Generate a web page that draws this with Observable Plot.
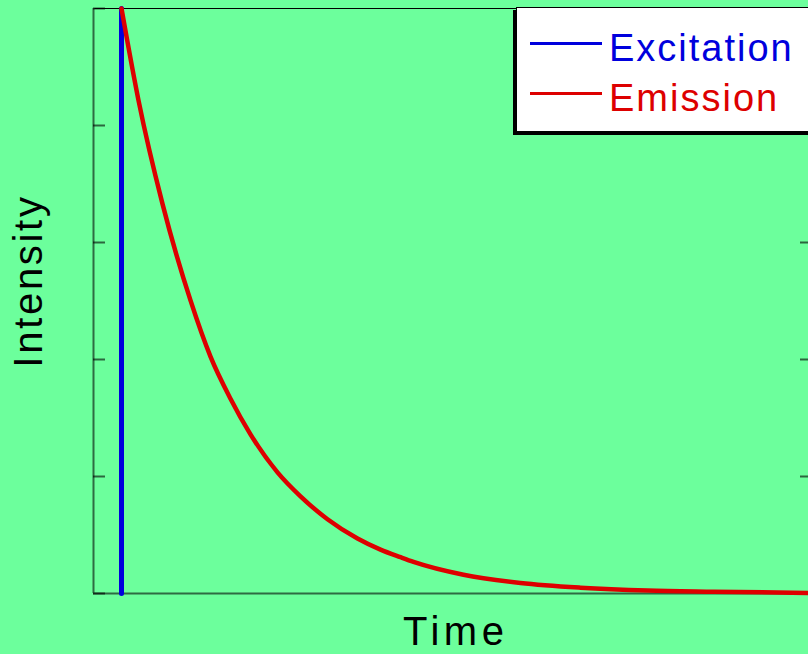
<!DOCTYPE html>
<html>
<head>
<meta charset="utf-8">
<script src="https://cdn.jsdelivr.net/npm/d3@7"></script>
<script src="https://cdn.jsdelivr.net/npm/@observablehq/plot@0.6"></script>
<style>
  html, body { margin: 0; padding: 0; background: #6cff9c; }
  #wrap { position: relative; width: 808px; height: 654px; overflow: hidden; background: #6cff9c; font-family: Arial, "Liberation Sans", sans-serif; }
  #chart { position: absolute; left: 0; top: 0; }
  .lbl { position: absolute; color: #000; font-size: 40px; white-space: nowrap; line-height: 1; }
  #xlabel { left: 403px; top: 611px; letter-spacing: 4.5px; }
  #ylabel { left: 28px; top: 281px; letter-spacing: 2.7px; transform: translate(-50%, -50%) rotate(-90deg); }
  #legend { position: absolute; left: 516px; top: 7px; width: 300px; height: 123px; background: #fff; border: 1px solid #000; box-shadow: -3px 3px 0 #000; }
  .row { position: absolute; left: 13px; height: 40px; }
  .row .sw { position: absolute; left: 0; top: 18px; width: 72px; height: 3px; }
  .row .tx { position: absolute; left: 79px; top: 4px; font-size: 38px; letter-spacing: 2px; line-height: 40px; }
</style>
</head>
<body>
<div id="wrap">
  <div id="chart"></div>
  <div id="xlabel" class="lbl"></div>
  <div id="ylabel" class="lbl"></div>
  <div id="legend"></div>
</div>
<script>
const excitationTime = [0, 0];
const excitationValue = [0, 1];
const emissionTime = [0, 0.17, 0.41, 0.69, 0.89, 1.09, 1.29, 1.56, 1.79, 2.06, 2.36, 2.59, 2.79, 2.92, 3.42, 3.99, 4.59, 5.26, 5.92, 6.86];
const emissionValue = [1.0, 0.843, 0.666, 0.501, 0.405, 0.333, 0.272, 0.207, 0.166, 0.127, 0.094, 0.075, 0.062, 0.054, 0.032, 0.018, 0.010, 0.005, 0.003, 0.001];
const yTicks = [0, 0.2, 0.4, 0.6, 0.8, 1.0];
const xTicks = [0];
const seriesNames = ["Excitation", "Emission"];
const seriesColors = ["#0000dd", "#dd0000"];
const xLabel = "Time";
const yLabel = "Intensity";

const excitation = excitationTime.map((t, i) => ({t, v: excitationValue[i]}));
const emission = emissionTime.map((t, i) => ({t, v: emissionValue[i]}));

const chart = Plot.plot({
  width: 808,
  height: 654,
  marginLeft: 93,
  marginRight: -3,
  marginTop: 8,
  marginBottom: 61,
  style: {background: "transparent", overflow: "visible"},
  x: {domain: [-0.28, 6.90], axis: null},
  y: {domain: [0, 1], axis: null},
  marks: [
    Plot.frame({stroke: "#000", strokeWidth: 1}),
    Plot.ruleY([0], {stroke: "#2e6b42", strokeWidth: 2}),
    Plot.ruleX([-0.28], {stroke: "#2e6b42", strokeWidth: 2}),
    Plot.axisY(yTicks, {anchor: "left", tickSize: -12, fill: "none", stroke: "#000", strokeOpacity: 0.6, strokeWidth: 2, label: null}),
    Plot.axisY(yTicks, {anchor: "right", tickSize: -12, fill: "none", stroke: "#000", strokeOpacity: 0.6, strokeWidth: 2, label: null}),
    Plot.axisX(xTicks, {anchor: "bottom", tickSize: -12, fill: "none", stroke: "#000", strokeWidth: 1, label: null}),
    Plot.axisX(xTicks, {anchor: "top", tickSize: -12, fill: "none", stroke: "#000", strokeWidth: 1, label: null}),
    Plot.line(excitation, {x: "t", y: "v", stroke: seriesColors[0], strokeWidth: 5}),
    Plot.line(emission, {x: "t", y: "v", stroke: seriesColors[1], strokeWidth: 4.5, curve: "monotone-x"})
  ]
});
document.getElementById("chart").appendChild(chart);
document.getElementById("xlabel").textContent = xLabel;
document.getElementById("ylabel").textContent = yLabel;

const legend = document.getElementById("legend");
seriesNames.forEach((name, i) => {
  const row = document.createElement("div");
  row.className = "row";
  row.style.top = (16 + i * 50) + "px";
  const sw = document.createElement("div");
  sw.className = "sw";
  sw.style.background = seriesColors[i];
  const tx = document.createElement("div");
  tx.className = "tx";
  tx.style.color = seriesColors[i];
  tx.textContent = name;
  row.appendChild(sw);
  row.appendChild(tx);
  legend.appendChild(row);
});
</script>
</body>
</html>
